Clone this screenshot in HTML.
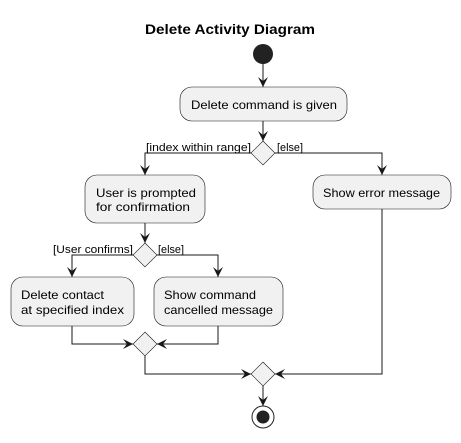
<!DOCTYPE html>
<html><head><style>body{margin:0;background:#fff}</style></head><body>
<svg width="461" height="438" xmlns="http://www.w3.org/2000/svg" font-family="Liberation Sans, sans-serif">
<defs><marker id="a" viewBox="0 0 10 10" refX="10" refY="5" markerWidth="10" markerHeight="10" orient="auto" markerUnits="userSpaceOnUse"><path d="M0,0 L10,5 L0,10 L4,5 Z" fill="#181818"/></marker></defs>
<text x="145" y="34" textLength="170" lengthAdjust="spacingAndGlyphs" font-size="14" font-weight="bold" fill="#000">Delete Activity Diagram</text>
<circle cx="263" cy="54" r="10" fill="#222"/>
<g stroke="#181818" stroke-width="1" fill="none">
<path d="M263,64 V87" marker-end="url(#a)"/>
<path d="M263,121 V141" marker-end="url(#a)"/>
<path d="M251,153 H145 V175" marker-end="url(#a)"/>
<path d="M275,153 H382 V175" marker-end="url(#a)"/>
<path d="M145,223 V243" marker-end="url(#a)"/>
<path d="M133,255 H72 V277" marker-end="url(#a)"/>
<path d="M157,255 H218 V277" marker-end="url(#a)"/>
<path d="M72,326 V344 H133" marker-end="url(#a)"/>
<path d="M218,326 V344 H157" marker-end="url(#a)"/>
<path d="M145,356 V374 H251" marker-end="url(#a)"/>
<path d="M382,209 V374 H275" marker-end="url(#a)"/>
<path d="M263,386 V406" marker-end="url(#a)"/>
</g>
<g fill="#f1f1f1" stroke="#181818" stroke-width="0.6">
<rect x="180" y="87" width="167" height="34" rx="12"/>
<rect x="85" y="175" width="120" height="48" rx="12"/>
<rect x="313" y="175" width="138" height="34" rx="12"/>
<rect x="11" y="277" width="123" height="49" rx="12"/>
<rect x="154" y="277" width="129" height="49" rx="12"/>
<path d="M263,141 L275,153 L263,165 L251,153 Z"/>
<path d="M145,243 L157,255 L145,267 L133,255 Z"/>
<path d="M145,332 L157,344 L145,356 L133,344 Z"/>
<path d="M263,362 L275,374 L263,386 L251,374 Z"/>
</g>
<circle cx="263" cy="417" r="11" fill="none" stroke="#222" stroke-width="1"/>
<circle cx="263" cy="417" r="6.5" fill="#222"/>
<g font-size="12" fill="#000" lengthAdjust="spacingAndGlyphs">
<text x="191" y="109" textLength="146" lengthAdjust="spacingAndGlyphs">Delete command is given</text>
<text x="96" y="197" textLength="100" lengthAdjust="spacingAndGlyphs">User is prompted</text>
<text x="96" y="211" textLength="94" lengthAdjust="spacingAndGlyphs">for confirmation</text>
<text x="323" y="197" textLength="117" lengthAdjust="spacingAndGlyphs">Show error message</text>
<text x="21" y="299" textLength="83" lengthAdjust="spacingAndGlyphs">Delete contact</text>
<text x="21" y="314" textLength="103" lengthAdjust="spacingAndGlyphs">at specified index</text>
<text x="164" y="299" textLength="92" lengthAdjust="spacingAndGlyphs">Show command</text>
<text x="164" y="314" textLength="109" lengthAdjust="spacingAndGlyphs">cancelled message</text>
</g>
<g font-size="11" fill="#000">
<text x="146" y="151" textLength="105" lengthAdjust="spacingAndGlyphs">[index within range]</text>
<text x="277" y="151" textLength="26" lengthAdjust="spacingAndGlyphs">[else]</text>
<text x="53" y="253" textLength="80" lengthAdjust="spacingAndGlyphs">[User confirms]</text>
<text x="158" y="253" textLength="26" lengthAdjust="spacingAndGlyphs">[else]</text>
</g>
</svg>
</body></html>
